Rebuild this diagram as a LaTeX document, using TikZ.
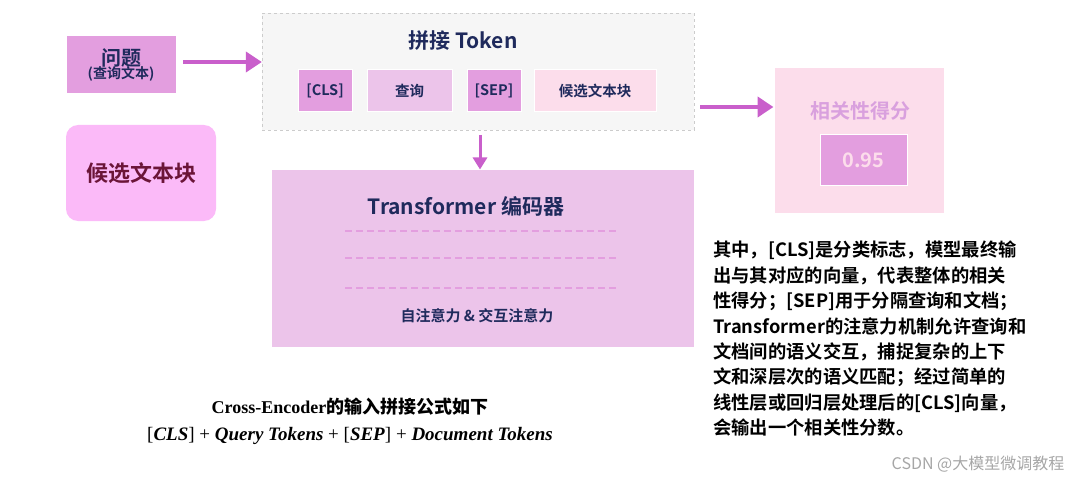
\documentclass[tikz,border=0pt]{standalone}
\usepackage{fontspec}
\usetikzlibrary{arrows.meta}
\setmainfont{Liberation Serif}
\newfontfamily\cjk{Noto Sans CJK SC}
\newfontfamily\cjkb{Noto Sans CJK SC Bold}
\newcommand{\bi}[1]{\textbf{\textit{#1}}}
\definecolor{navy}{HTML}{1F2A5C}
\definecolor{midp}{HTML}{E39EDF}
\definecolor{lightp}{HTML}{ECC4EA}
\definecolor{pinkp}{HTML}{FCDDEB}
\definecolor{arr}{HTML}{C95FCB}
\definecolor{candf}{HTML}{FBBAF8}
\definecolor{candt}{HTML}{6B1538}
\definecolor{scoret}{HTML}{D9A0DE}
\begin{document}
\begin{tikzpicture}[x=1pt,y=-1pt,
  box/.style={draw=white,line width=1pt,inner sep=0pt},
  lbl/.style={font=\cjkb,text=navy},
  fat/.style={draw=arr,line width=4pt,-{Triangle[length=16pt,width=20pt]}}]
\useasboundingbox (0,0) rectangle (1091,481);
\node[box,fill=midp,minimum width=110pt,minimum height=58pt,align=center,lbl] (q) at (121,65) {\fontsize{20}{22}\selectfont 问题\\[-2pt]\fontsize{14}{15}\selectfont (查询文本)};
\node[draw=gray!40,dashed,fill=gray!7,minimum width=432pt,minimum height=117pt,inner sep=0pt] (panel) at (478,71.5) {};
\node[lbl,font=\cjkb\fontsize{21}{23}\selectfont] (pt) at (463,41) {拼接 Token};
\node[box,fill=midp,minimum width=54pt,minimum height=42pt,lbl,font=\cjkb\fontsize{14.5}{16}\selectfont] (cls) at (325,91) {[CLS]};
\node[box,fill=lightp,minimum width=85pt,minimum height=42pt,lbl,font=\cjkb\fontsize{14.5}{16}\selectfont] (qq) at (409.5,91) {查询};
\node[box,fill=midp,minimum width=54pt,minimum height=42pt,lbl,font=\cjkb\fontsize{14.5}{16}\selectfont] (sep) at (494,91) {[SEP]};
\node[box,fill=pinkp,minimum width=122pt,minimum height=42pt,lbl,font=\cjkb\fontsize{14.5}{16}\selectfont] (doc) at (595,91) {候选文本块};
\coordinate (a1) at (183,62);
\draw[fat] (a1) -- (panel.west|-a1);
\node[box,fill=lightp,minimum width=423pt,minimum height=177pt] (tf) at (482.5,258.5) {};
\coordinate (a2) at (480,135);
\draw[fat,line width=3pt,-{Triangle[length=12pt,width=14pt]}] (a2) -- (tf.north-|a2);
\node[lbl,font=\cjkb\fontsize{21}{23}\selectfont] (tt) at (466,206) {Transformer 编码器};
\foreach \yy/\nm in {231/d1,258/d2,288/d3}{
  \coordinate (\nm a) at (345,\yy); \coordinate (\nm b) at (618,\yy);
  \draw[draw=midp,line width=2pt,dash pattern=on 7pt off 4pt] (\nm a) -- (\nm b);}
\node[lbl,font=\cjkb\fontsize{15}{17}\selectfont] (att) at (477,316) {自注意力 \& 交互注意力};
\node[fill=candf,draw=none,rounded corners=12pt,minimum width=150pt,minimum height=96pt,font=\cjkb\fontsize{22}{24}\selectfont,text=candt] (cand) at (141,173) {候选文本块};
\node[box,fill=pinkp,minimum width=170pt,minimum height=145pt] (score) at (859,140.5) {};
\coordinate (a3) at (700,107);
\draw[fat] (a3) -- (score.west|-a3);
\node[font=\cjkb\fontsize{20}{22}\selectfont,text=scoret] (st) at (860,111) {相关性得分};
\node[box,fill=midp,minimum width=87pt,minimum height=50pt,font=\cjkb\fontsize{20}{22}\selectfont,text=pinkp] (val) at (863.5,160) {0.95};
\node[anchor=north west,align=left,font=\cjkb\fontsize{18.3}{25.4}\selectfont,inner sep=0pt] (para) at (713,241) {其中，[CLS]是分类标志，模型最终输\\出与其对应的向量，代表整体的相关\\性得分；[SEP]用于分隔查询和文档；\\Transformer的注意力机制允许查询和\\文档间的语义交互，捕捉复杂的上下\\文和深层次的语义匹配；经过简单的\\线性层或回归层处理后的[CLS]向量，\\会输出一个相关性分数。};
\node[font=\bfseries\fontsize{18}{20}\selectfont] (ce) at (350,407) {Cross-Encoder{\cjkb 的输入拼接公式如下}};
\node[font=\fontsize{19}{21}\selectfont] (fm) at (350,436) {[\bi{CLS}] + \bi{Query Tokens} + [\bi{SEP}] + \bi{Document Tokens}};
\node[font=\cjk\fontsize{16}{18}\selectfont,text=gray!70] (wm) at (978,464) {CSDN @大模型微调教程};
\end{tikzpicture}
\end{document}
